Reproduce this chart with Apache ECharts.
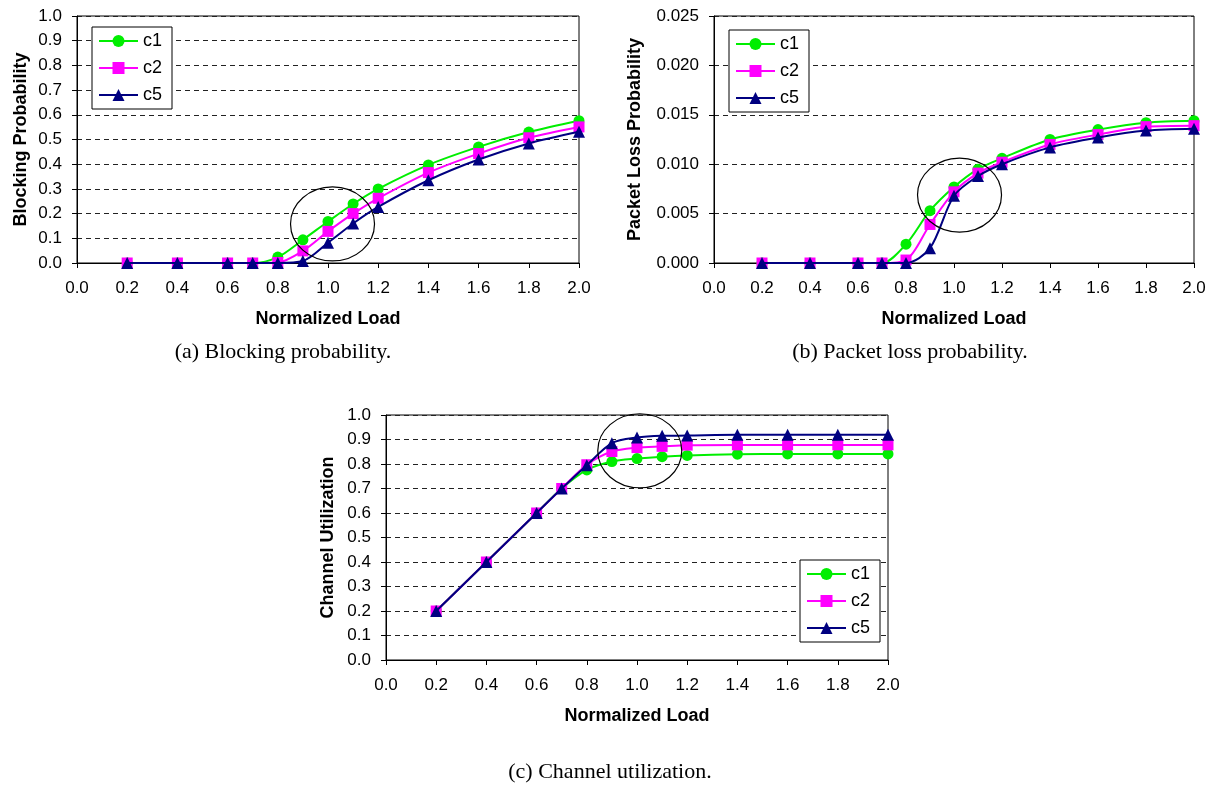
<!DOCTYPE html>
<html>
<head>
<meta charset="utf-8">
<script src="https://cdn.jsdelivr.net/npm/echarts@6/dist/echarts.min.js"></script>
<style>
  html, body { margin: 0; padding: 0; background: #fff; }
  #chart { width: 1212px; height: 787px; }
</style>
</head>
<body>
<div id="chart"></div>
<script>
// Offered load points (x axis of every panel)
const loads = [0.2, 0.4, 0.6, 0.7, 0.8, 0.9, 1.0, 1.1, 1.2, 1.4, 1.6, 1.8, 2.0];

// (a) Blocking probability
const blockC1 = [0, 0, 0, 0, 0.024, 0.094, 0.168, 0.239, 0.300, 0.397, 0.470, 0.530, 0.576];
const blockC2 = [0, 0, 0, 0, 0.002, 0.049, 0.128, 0.200, 0.262, 0.366, 0.443, 0.507, 0.551];
const blockC5 = [0, 0, 0, 0, 0, 0.008, 0.082, 0.160, 0.227, 0.335, 0.419, 0.484, 0.531];

// (b) Packet loss probability
const lossC1 = [0, 0, 0, 0, 0.0019, 0.0053, 0.0077, 0.0095, 0.0106, 0.0125, 0.0135, 0.0142, 0.0144];
const lossC2 = [0, 0, 0, 0, 0.0003, 0.0039, 0.0072, 0.0091, 0.0102, 0.0120, 0.0130, 0.0138, 0.0139];
const lossC5 = [0, 0, 0, 0, 0, 0.0015, 0.0068, 0.0088, 0.0100, 0.0117, 0.0127, 0.0134, 0.0136];

// (c) Channel utilization
const utilC1 = [0.2, 0.4, 0.6, 0.7, 0.776, 0.810, 0.822, 0.830, 0.835, 0.840, 0.841, 0.841, 0.841];
const utilC2 = [0.2, 0.4, 0.6, 0.7, 0.797, 0.851, 0.867, 0.872, 0.877, 0.878, 0.878, 0.878, 0.878];
const utilC5 = [0.2, 0.4, 0.6, 0.7, 0.795, 0.885, 0.908, 0.915, 0.916, 0.919, 0.919, 0.919, 0.919];

const seriesNames = ['c1', 'c2', 'c5'];
const xTitle = 'Normalized Load';
const yTitles = ['Blocking Probability', 'Packet Loss Probability', 'Channel Utilization'];
const captions = ['(a) Blocking probability.', '(b) Packet loss probability.', '(c) Channel utilization.'];

// Circled regions of interest: [panel, load, value]
const highlights = [[0, 1.018, 0.158], [1, 1.023, 0.00688], [2, 1.011, 0.854]];

const SANS = '"Liberation Sans", Arial, sans-serif';
const SERIF = '"Liberation Serif", "Times New Roman", serif';
const styles = {
  c1: { color: '#00ee00', symbol: 'circle', size: 11 },
  c2: { color: '#ff00ff', symbol: 'rect', size: 11 },
  c5: { color: '#000080', symbol: 'triangle', size: 12 }
};

const panels = [
  { grid: { left: 77, top: 16, width: 502, height: 247 }, yMax: 1.0, yStep: 0.1, digits: 1, yGap: 47, data: [blockC1, blockC2, blockC5], legend: { left: 92, top: 27 }, caption: [283, 352] },
  { grid: { left: 714, top: 16, width: 480, height: 247 }, yMax: 0.025, yStep: 0.005, digits: 3, yGap: 70, data: [lossC1, lossC2, lossC5], legend: { left: 729, top: 30 }, caption: [910, 352] },
  { grid: { left: 386, top: 415, width: 502, height: 245 }, yMax: 1.0, yStep: 0.1, digits: 1, yGap: 49, data: [utilC1, utilC2, utilC5], legend: { left: 800, top: 560 }, caption: [610, 772] }
];

const grids = [], xAxes = [], yAxes = [], series = [], legends = [];
panels.forEach((p, i) => {
  grids.push(Object.assign({ show: true, borderColor: '#000', borderWidth: 1, backgroundColor: '#fff' }, p.grid));
  xAxes.push({
    type: 'value', gridIndex: i, min: 0, max: 2, interval: 0.2,
    name: xTitle, nameLocation: 'middle', nameGap: 47,
    nameTextStyle: { fontFamily: SANS, fontWeight: 'bold', fontSize: 18, color: '#000' },
    axisLine: { show: true, onZero: false, lineStyle: { color: '#000', width: 1 } },
    axisTick: { show: true, length: 5, lineStyle: { color: '#000' } },
    axisLabel: { formatter: v => v.toFixed(1), margin: 17, fontFamily: SANS, fontSize: 17, color: '#000' },
    splitLine: { show: false }
  });
  yAxes.push({
    type: 'value', gridIndex: i, min: 0, max: p.yMax, interval: p.yStep,
    name: yTitles[i], nameLocation: 'middle', nameGap: p.yGap,
    nameTextStyle: { fontFamily: SANS, fontWeight: 'bold', fontSize: 18, color: '#000' },
    axisLine: { show: true, lineStyle: { color: '#000', width: 1 } },
    axisTick: { show: true, length: 5, lineStyle: { color: '#000' } },
    axisLabel: { formatter: v => v.toFixed(p.digits), margin: 15, fontFamily: SANS, fontSize: 17, color: '#000' },
    splitLine: { show: true, lineStyle: { color: '#222', width: 1, type: [5, 4] } }
  });
  seriesNames.forEach((name, k) => {
    const st = styles[name];
    series.push({
      type: 'line', name: name, xAxisIndex: i, yAxisIndex: i,
      data: loads.map((x, j) => [x, p.data[k][j]]),
      smooth: 0.3,
      symbol: st.symbol, symbolSize: st.size, showSymbol: true,
      lineStyle: { color: st.color, width: 2 },
      itemStyle: { color: st.color },
      z: 3 + k, animation: false
    });
  });
  legends.push({
    left: p.legend.left, top: p.legend.top, orient: 'vertical', data: seriesNames,
    itemWidth: 39, itemHeight: 15, itemGap: 7, padding: [4, 10, 4, 6],
    borderColor: '#000', borderWidth: 1, backgroundColor: '#fff',
    textStyle: { fontFamily: SANS, fontSize: 18, color: '#000', lineHeight: 20 },
    selectedMode: false
  });
});

const chart = echarts.init(document.getElementById('chart'), null, { renderer: 'canvas' });
chart.setOption({
  animation: false,
  backgroundColor: '#fff',
  grid: grids, xAxis: xAxes, yAxis: yAxes, series: series, legend: legends
});

// Captions and the circled regions, placed through the axes' own scales
const graphics = captions.map((t, i) => ({
  type: 'text', x: panels[i].caption[0], y: panels[i].caption[1],
  style: { text: t, font: '22px ' + SERIF, fill: '#000', textAlign: 'center', textVerticalAlign: 'middle' }
}));
highlights.forEach(([g, x, y]) => {
  const pt = chart.convertToPixel({ gridIndex: g }, [x, y]);
  graphics.push({
    type: 'ellipse', z: 100,
    shape: { cx: pt[0], cy: pt[1], rx: 42, ry: 37 },
    style: { fill: 'none', stroke: '#000', lineWidth: 1.2 }
  });
});
chart.setOption({ graphic: graphics });
</script>
</body>
</html>
